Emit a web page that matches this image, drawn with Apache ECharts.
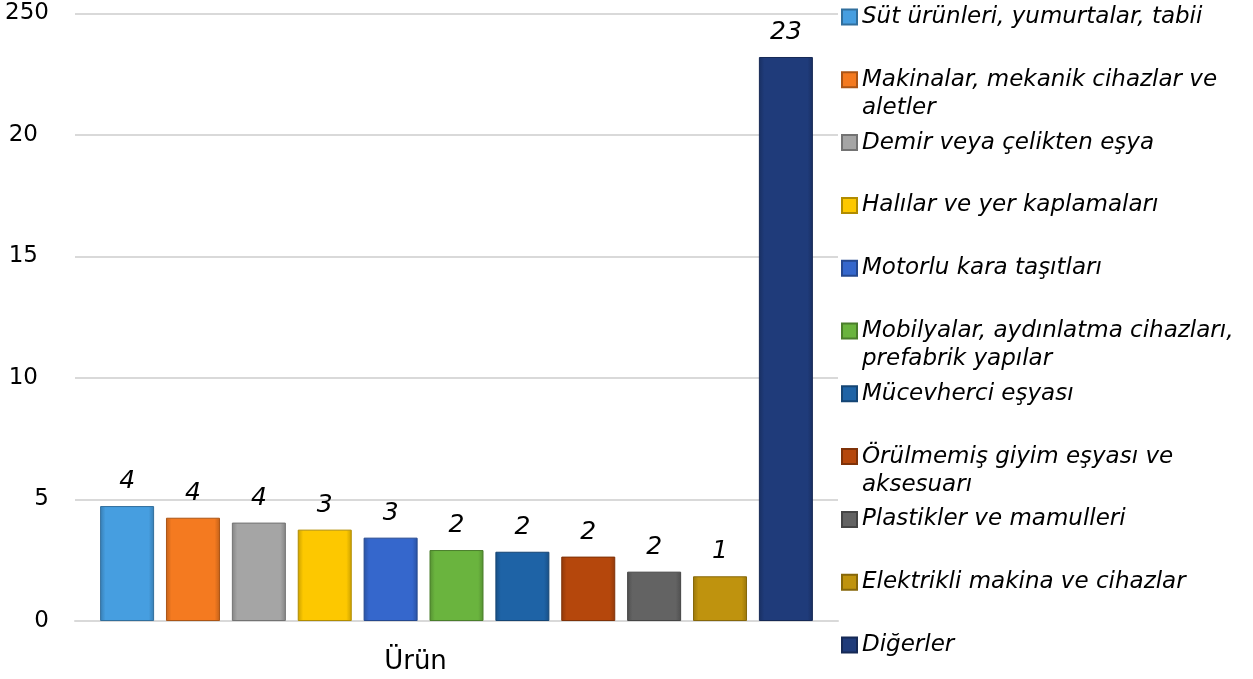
<!DOCTYPE html>
<html>
<head>
<meta charset="utf-8">
<script src="https://cdn.jsdelivr.net/npm/echarts@6/dist/echarts.min.js"></script>
<style>
  html, body { margin: 0; padding: 0; background: #ffffff; }
  #chart { width: 1253px; height: 679px; }
</style>
</head>
<body>
<div id="chart"></div>
<script>
const categories = ['Ürün'];
const seriesNames = [
  'Süt ürünleri, yumurtalar, tabii',
  'Makinalar, mekanik cihazlar ve\naletler',
  'Demir veya çelikten eşya',
  'Halılar ve yer kaplamaları',
  'Motorlu kara taşıtları',
  'Mobilyalar, aydınlatma cihazları,\nprefabrik yapılar',
  'Mücevherci eşyası',
  'Örülmemiş giyim eşyası ve\naksesuarı',
  'Plastikler ve mamulleri',
  'Elektrikli makina ve cihazlar',
  'Diğerler'
];
const values = [4.73, 4.25, 4.05, 3.76, 3.43, 2.92, 2.85, 2.65, 2.03, 1.84, 23.21];
const valueLabels = ['4', '4', '4', '3', '3', '2', '2', '2', '2', '1', '23'];
const yTickLabels = ['0', '5', '10', '15', '20', '250'];
const colors = ['#469ee0', '#f47a20', '#a5a5a5', '#fdc800', '#3567cc', '#6ab43e', '#1e63a6', '#b5470c', '#636363', '#bf930e', '#1f3b7a'];

const FONT = 'DejaVu Sans';
const L = 28;

const chart = echarts.init(document.getElementById('chart'), null, { renderer: 'canvas' });

function shade(hex, f) {
  const n = parseInt(hex.slice(1), 16);
  const r = Math.round(((n >> 16) & 255) * f);
  const g = Math.round(((n >> 8) & 255) * f);
  const b = Math.round((n & 255) * f);
  return 'rgb(' + r + ',' + g + ',' + b + ')';
}

const legends = seriesNames.map((n, i) => {
  const two = n.indexOf('\n') >= 0;
  const c = 17 + 62.8 * i;
  return {
    orient: 'vertical',
    left: 841,
    top: c - (two ? 1.5 : 0.5) * L,
    padding: 0,
    itemWidth: 15,
    itemHeight: 15,
    icon: 'rect',
    selectedMode: false,
    data: [n],
    formatter: (name) => (name.indexOf('\n') >= 0 ? ' \n' + name : name),
    textStyle: { fontFamily: FONT, fontStyle: 'italic', fontSize: 23, color: '#000', lineHeight: L }
  };
});

function bevel(c) {
  const dark = shade(c, 0.8);
  return new echarts.graphic.LinearGradient(0, 0, 1, 0, [
    { offset: 0, color: dark },
    { offset: 0.1, color: c },
    { offset: 0.9, color: c },
    { offset: 1, color: dark }
  ]);
}

const series = seriesNames.map((n, i) => ({
  name: n,
  type: 'bar',
  data: [values[i]],
  barWidth: 54,
  barGap: '22%',
  color: colors[i],
  itemStyle: {
    color: bevel(colors[i]),
    borderColor: shade(colors[i], 0.7),
    borderWidth: 1
  },
  label: {
    show: true,
    position: 'top',
    distance: 12,
    formatter: () => valueLabels[i],
    fontFamily: FONT,
    fontStyle: 'italic',
    fontSize: 25,
    color: '#000'
  }
}));

chart.setOption({
  animation: false,
  backgroundColor: '#ffffff',
  grid: { left: 75, right: 415, top: 13.5, bottom: 58, containLabel: false },
  legend: legends,
  xAxis: {
    type: 'category',
    data: categories,
    axisLine: { show: true, lineStyle: { color: '#d9d9d9', width: 2 } },
    axisTick: { show: false },
    axisLabel: { fontFamily: FONT, fontSize: 26, color: '#000', margin: 28, padding: [0, 82, 0, 0] }
  },
  yAxis: {
    type: 'value',
    min: 0,
    max: 25,
    interval: 5,
    axisLine: { show: false },
    axisTick: { show: false },
    splitLine: { lineStyle: { color: '#d9d9d9', width: 2 } },
    axisLabel: {
      margin: 26,
      align: 'right',
      fontFamily: FONT,
      fontSize: 23,
      color: '#000',
      formatter: (v) => {
        const t = yTickLabels[Math.round(v / 5)];
        return t.length === 2 ? '{p|' + t + '}' : t;
      },
      rich: { p: { padding: [0, 11, 0, 0], fontFamily: FONT, fontSize: 23, color: '#000' } }
    }
  },
  series: series
});
</script>
</body>
</html>
